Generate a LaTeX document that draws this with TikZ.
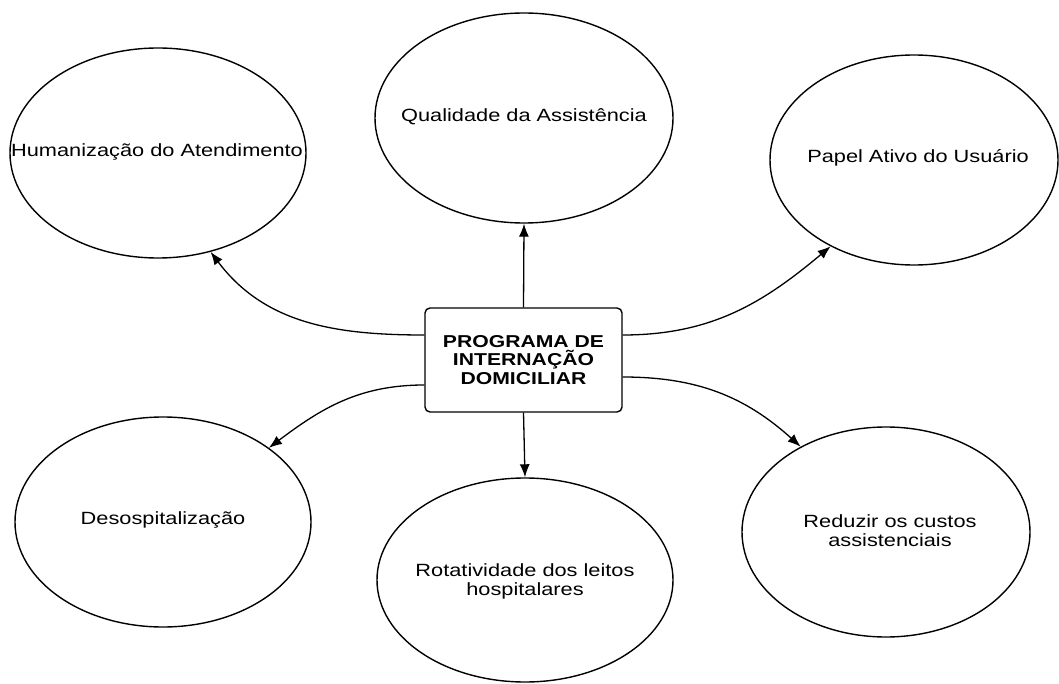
\documentclass[tikz,border=0pt]{standalone}
\usepackage{fontspec}
\setmainfont{Liberation Sans}[FakeStretch=1.23]
\usetikzlibrary{shapes.geometric,arrows.meta}
\tikzset{
  ell/.style={ellipse, draw=black, line width=1.4pt, inner sep=0pt},
  lbl/.style={align=center, font=\fontsize{17.7}{19}\selectfont},
  prog/.style={draw=black, line width=1.4pt, rounded corners=5pt, minimum width=197pt, minimum height=104pt, inner sep=0pt, align=center, font=\fontsize{17.2}{18.5}\selectfont\bfseries},
  arr/.style={line width=1.3pt, -{Latex[length=13pt,width=10pt]}}
}
\begin{document}
\begin{tikzpicture}[x=1pt,y=-1pt]
\useasboundingbox (0,0) rectangle (1059,684);
\fill[white] (0,0) rectangle (1059,684);

\node[prog] (box) at (523.5,360) {PROGRAMA DE\\INTERNAÇÃO\\DOMICILIAR};

\node[ell, minimum width=296pt, minimum height=210pt] (hum) at (158,153) {};
\node[lbl] (humt) at (157,152) {Humanização do Atendimento};

\node[ell, minimum width=298pt, minimum height=210pt] (qual) at (524,118) {};
\node[lbl] (qualt) at (524,117) {Qualidade da Assistência};

\node[ell, minimum width=288pt, minimum height=210pt] (pap) at (914,160) {};
\node[lbl] (papt) at (918,158) {Papel Ativo do Usuário};

\node[ell, minimum width=296pt, minimum height=210pt] (des) at (163,522) {};
\node[lbl] (dest) at (163,520) {Desospitalização};

\node[ell, minimum width=296pt, minimum height=204pt] (rot) at (525,580) {};
\node[lbl] (rott) at (525,581) {Rotatividade dos leitos\\hospitalares};

\node[ell, minimum width=288pt, minimum height=210pt] (red) at (886,532) {};
\node[lbl] (redt) at (890,531) {Reduzir os custos\\assistenciais};

\draw[arr] (box.north) -- (qual.south);
\draw[arr] (box.south) -- (rot.north);
\draw[arr] ([yshift=25pt]box.west) to[out=180,in=-53] (hum.-62.6);
\draw[arr] ([yshift=-25pt]box.west) to[out=180,in=37] (des.35.5);
\draw[arr] ([yshift=25pt]box.east) to[out=0,in=220] (pap.226.3);
\draw[arr] ([yshift=-17pt]box.east) to[out=0,in=138] (red.135.3);
\end{tikzpicture}
\end{document}
